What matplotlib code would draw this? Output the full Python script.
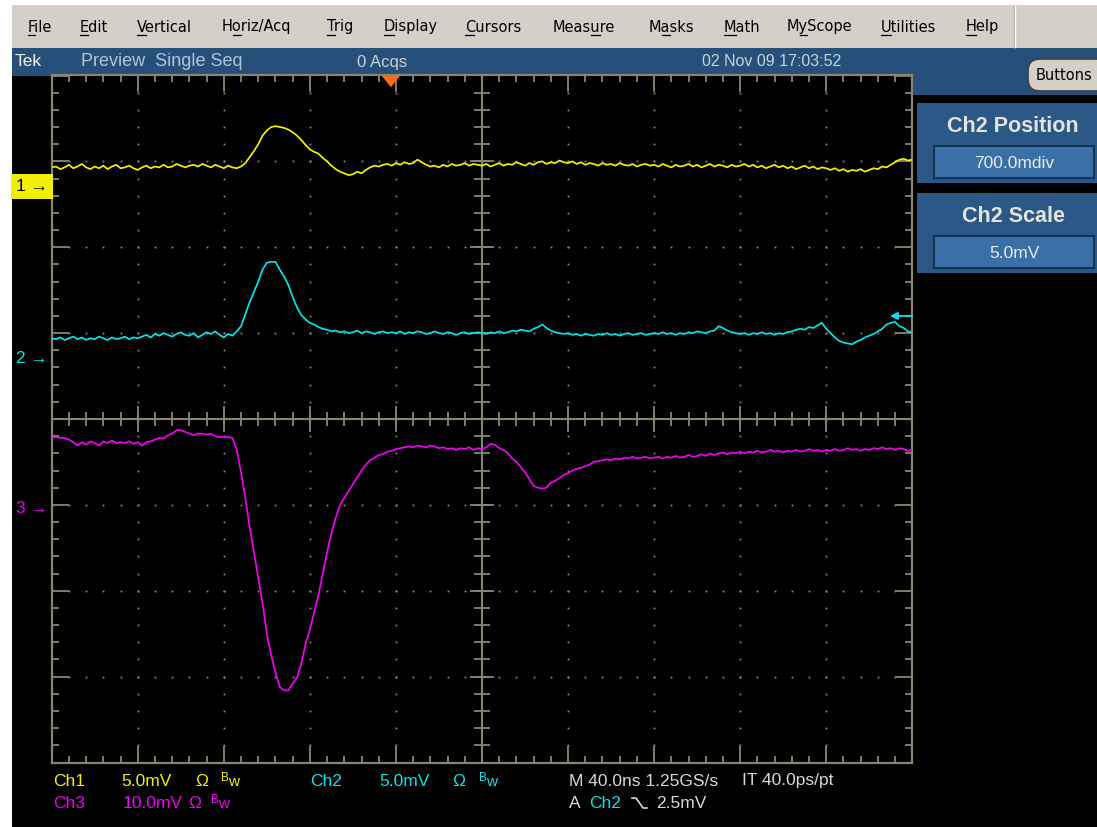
import matplotlib
matplotlib.use("Agg")
import matplotlib.pyplot as plt
from matplotlib.patches import Rectangle, FancyBboxPatch
from matplotlib.transforms import blended_transform_factory
from matplotlib.font_manager import FontProperties
import numpy as np

W, H = 1097, 827

# sample times in divisions (40 ns/div), 0.05 div apart
t = np.linspace(0, 10, 201)

# Ch1, 5.0 mV/div (divisions from screen centre)
ch1 = [
    2.93, 2.94, 2.91, 2.93, 2.96, 2.92, 2.94, 2.97, 2.93, 2.91, 2.94, 2.92, 2.95, 2.91, 2.94, 2.96, 2.92, 2.93, 2.95, 2.92,
    2.90, 2.93, 2.95, 2.92, 2.94, 2.93, 2.96, 2.93, 2.94, 2.97, 2.95, 2.93, 2.95, 2.96, 2.94, 2.97, 2.95, 2.93, 2.96, 2.94,
    2.92, 2.95, 2.93, 2.92, 2.94, 2.98, 3.05, 3.12, 3.20, 3.30, 3.36, 3.40, 3.41, 3.40, 3.39, 3.37, 3.34, 3.30, 3.25, 3.19,
    3.14, 3.11, 3.09, 3.04, 3.00, 2.95, 2.91, 2.88, 2.86, 2.84, 2.85, 2.88, 2.86, 2.90, 2.93, 2.95, 2.94, 2.96, 2.97, 2.95,
    2.98, 2.96, 2.99, 2.97, 2.98, 3.02, 2.99, 2.96, 2.94, 2.95, 2.93, 2.96, 2.94, 2.97, 2.95, 2.96, 2.98, 2.95, 2.97, 2.96,
    2.95, 2.97, 2.94, 2.96, 2.98, 2.95, 2.97, 2.96, 2.99, 2.97, 2.95, 2.98, 2.96, 2.99, 3.00, 2.97, 2.99, 2.98, 3.01, 2.99,
    2.98, 3.00, 2.97, 2.99, 2.96, 2.98, 2.97, 2.95, 2.98, 2.96, 2.97, 2.95, 2.98, 2.96, 2.95, 2.97, 2.94, 2.96, 2.97, 2.95,
    2.96, 2.94, 2.97, 2.95, 2.93, 2.96, 2.94, 2.95, 2.97, 2.94, 2.96, 2.93, 2.95, 2.97, 2.94, 2.96, 2.95, 2.93, 2.96, 2.94,
    2.95, 2.97, 2.94, 2.96, 2.93, 2.95, 2.92, 2.94, 2.96, 2.93, 2.95, 2.92, 2.94, 2.91, 2.93, 2.95, 2.92, 2.94, 2.91, 2.93,
    2.92, 2.90, 2.92, 2.89, 2.91, 2.88, 2.90, 2.89, 2.91, 2.88, 2.90, 2.92, 2.91, 2.94, 2.93, 2.96, 2.99, 3.02, 3.03, 3.01,
    3.02,
]

# Ch2, 5.0 mV/div
ch2 = [
    0.94, 0.93, 0.95, 0.92, 0.94, 0.96, 0.93, 0.95, 0.92, 0.94, 0.93, 0.96, 0.94, 0.92, 0.95, 0.93, 0.94, 0.96, 0.93, 0.95,
    0.94, 0.96, 0.98, 0.95, 0.99, 0.97, 1.00, 0.98, 0.96, 0.99, 1.01, 0.98, 0.97, 1.00, 0.95, 0.98, 1.01, 0.99, 1.02, 0.98,
    0.95, 0.99, 0.97, 1.02, 1.08, 1.22, 1.36, 1.48, 1.60, 1.74, 1.82, 1.83, 1.83, 1.74, 1.66, 1.56, 1.42, 1.30, 1.21, 1.16,
    1.12, 1.10, 1.07, 1.05, 1.04, 1.02, 1.03, 1.01, 1.02, 1.00, 1.01, 1.03, 1.00, 1.02, 1.01, 0.99, 1.01, 1.02, 1.00, 1.01,
    1.00, 1.02, 0.99, 1.01, 1.00, 1.02, 1.01, 0.99, 1.00, 1.02, 1.00, 0.99, 1.01, 1.00, 0.98, 1.00, 1.01, 0.99, 1.00, 1.01,
    1.00, 0.99, 1.01, 1.00, 1.02, 1.00, 1.01, 1.03, 1.02, 1.04, 1.03, 1.02, 1.05, 1.07, 1.10, 1.06, 1.03, 1.01, 1.00, 0.99,
    1.00, 0.98, 0.99, 0.97, 0.99, 0.98, 0.97, 0.99, 0.98, 1.00, 0.98, 0.99, 0.97, 0.99, 1.00, 0.98, 0.99, 1.00, 0.98, 0.99,
    1.00, 0.99, 1.01, 0.99, 1.00, 0.98, 1.00, 0.99, 1.01, 1.00, 1.02, 1.01, 1.00, 1.02, 1.03, 1.08, 1.06, 1.03, 1.01, 1.00,
    0.99, 1.00, 0.98, 1.00, 0.99, 1.01, 0.99, 1.00, 0.98, 1.00, 0.99, 1.01, 1.02, 1.04, 1.05, 1.04, 1.07, 1.06, 1.09, 1.12,
    1.05, 1.00, 0.95, 0.91, 0.89, 0.88, 0.87, 0.90, 0.92, 0.95, 0.97, 0.99, 1.02, 1.05, 1.10, 1.12, 1.13, 1.08, 1.06, 1.02,
    1.01,
]

# Ch3, 10.0 mV/div
ch3 = [
    -0.22, -0.21, -0.22, -0.22, -0.24, -0.27, -0.31, -0.27, -0.30, -0.26, -0.28, -0.31, -0.26, -0.28, -0.25, -0.28, -0.27, -0.28, -0.26, -0.29,
    -0.27, -0.31, -0.27, -0.26, -0.24, -0.22, -0.23, -0.19, -0.17, -0.13, -0.13, -0.15, -0.17, -0.19, -0.17, -0.17, -0.18, -0.17, -0.20, -0.21,
    -0.21, -0.21, -0.22, -0.36, -0.62, -0.92, -1.26, -1.55, -1.85, -2.15, -2.50, -2.75, -2.95, -3.12, -3.16, -3.16, -3.08, -3.01, -2.85, -2.62,
    -2.45, -2.25, -2.05, -1.80, -1.55, -1.33, -1.15, -1.00, -0.92, -0.84, -0.76, -0.68, -0.60, -0.53, -0.48, -0.45, -0.42, -0.41, -0.38, -0.37,
    -0.35, -0.34, -0.33, -0.32, -0.33, -0.31, -0.32, -0.33, -0.31, -0.32, -0.34, -0.33, -0.35, -0.34, -0.36, -0.34, -0.35, -0.33, -0.36, -0.34,
    -0.35, -0.33, -0.29, -0.30, -0.34, -0.36, -0.40, -0.46, -0.50, -0.56, -0.62, -0.70, -0.78, -0.80, -0.81, -0.80, -0.74, -0.72, -0.69, -0.65,
    -0.63, -0.60, -0.58, -0.57, -0.55, -0.53, -0.50, -0.49, -0.48, -0.47, -0.48, -0.46, -0.47, -0.45, -0.46, -0.44, -0.46, -0.45, -0.44, -0.46,
    -0.45, -0.44, -0.46, -0.44, -0.45, -0.43, -0.45, -0.44, -0.42, -0.44, -0.43, -0.41, -0.43, -0.40, -0.42, -0.40, -0.39, -0.41, -0.39, -0.40,
    -0.38, -0.40, -0.38, -0.39, -0.37, -0.39, -0.38, -0.36, -0.38, -0.37, -0.39, -0.37, -0.38, -0.36, -0.38, -0.37, -0.35, -0.37, -0.36, -0.38,
    -0.36, -0.37, -0.35, -0.37, -0.36, -0.34, -0.36, -0.35, -0.37, -0.35, -0.36, -0.34, -0.35, -0.33, -0.35, -0.34, -0.36, -0.34, -0.35, -0.37,
    -0.36,
]

# ground reference of each channel, trigger level and trigger point (divisions)
ch_names = ["1", "2", "3"]
ch_offsets = [2.71, 0.70, -1.04]
trig_level = 1.2
trig_pos = 3.93

menu_items = ["File", "Edit", "Vertical", "Horiz/Acq", "Trig", "Display", "Cursors",
              "Measure", "Masks", "Math", "MyScope", "Utilities", "Help"]
menu_x = [28, 80, 137, 222, 327, 384, 465, 553, 649, 724, 787, 881, 966]
menu_key = [0, 0, 0, 1, 0, 0, 0, 4, 1, 0, 1, 0, 0]  # underlined accelerator letter

YEL = "#f0f000"
CYA = "#00e6e6"
MAG = "#f000f0"
GRAT = "#8a8570"
MENU_BG = "#d4d0c8"
BAR_BG = "#26507a"
PANEL_BG = "#2b5886"
VALUE_BG = "#3a6fa8"
SCOPE_FONT = ["Liberation Sans", "DejaVu Sans"]

fig = plt.figure(figsize=(W / 100, H / 100), dpi=100)
fig.patch.set_facecolor("black")
renderer = fig.canvas.get_renderer()

# pixel-space layer for the window chrome
bg = fig.add_axes([0, 0, 1, 1])
bg.set_xlim(0, W)
bg.set_ylim(H, 0)
bg.axis("off")


def box(x, y, w, h, color, **kw):
    bg.add_patch(Rectangle((x, y), w, h, facecolor=color, edgecolor=kw.pop("ec", "none"), **kw))


def label(x, y, s, color, size=12.5, **kw):
    kw.setdefault("family", SCOPE_FONT)
    bg.text(x, y, s, color=color, fontsize=size, va="center", **kw)


box(0, 0, W, 5, "white")
box(0, 0, 12, H, "white")
box(12, 5, W - 12, 43, MENU_BG)
bg.plot([1014, 1014], [6, 47], color="#a8a49c", lw=1)
bg.plot([1015, 1015], [6, 47], color="white", lw=1)
menu_font = FontProperties(family="DejaVu Sans", size=10.5)
for name, x, k in zip(menu_items, menu_x, menu_key):
    label(x, 27, name, "black", size=10.5, family="DejaVu Sans")
    x0 = renderer.get_text_width_height_descent(name[:k], menu_font, ismath=False)[0] if k else 0
    x1 = renderer.get_text_width_height_descent(name[:k + 1], menu_font, ismath=False)[0]
    bg.plot([x + x0, x + x1 - 1], [35, 35], color="black", lw=0.9)

# status bar
box(12, 48, 900, 27.5, BAR_BG)
box(912, 48, W - 912, 47, BAR_BG)
label(15, 62, "Tek", "#f0f0f0", size=12.5)
label(81, 62, "Preview  Single Seq", "#b4c4d6", size=13)
label(357, 62, "0 Acqs", "#c8d2dc", size=12)
label(702, 62, "02 Nov 09 17:03:52", "#c8d2dc", size=11.5)

bg.add_patch(FancyBboxPatch((1028, 59), 80, 32, boxstyle="round,pad=0,rounding_size=12",
                            facecolor=MENU_BG, edgecolor="#404040", lw=1.2))
label(1036, 75, "Buttons", "black", size=10.5, family="DejaVu Sans")

# side panel
for y0, title, value in [(103, "Ch2 Position", "700.0mdiv"), (193, "Ch2 Scale", "5.0mV")]:
    box(917, y0, 180, 80, PANEL_BG)
    bg.text(1013, y0 + 24, title, color="#e4e4e4", fontsize=15.5, fontweight="bold",
            family=SCOPE_FONT, ha="center", va="center")
    box(934, y0 + 43, 160, 32, VALUE_BG, ec="#163250", lw=1.5)
    bg.text(1014, y0 + 60, value, color="#e6ecf4", fontsize=12.5, family=SCOPE_FONT,
            ha="center", va="center")

# readout below the graticule
r1, r2 = 781, 803
label(53, r1, "Ch1", YEL)
label(121, r1, "5.0mV", YEL)
label(195, r1, "Ω", YEL)
label(221, r1 - 3, "B", YEL, size=8.5)
label(228, r1 + 1, "w", YEL, size=11)
label(310, r1, "Ch2", CYA)
label(379, r1, "5.0mV", CYA)
label(452, r1, "Ω", CYA)
label(479, r1 - 3, "B", CYA, size=8.5)
label(486, r1 + 1, "w", CYA, size=11)
label(569, r1, "M 40.0ns 1.25GS/s", "#d8d8d8")
label(742, r1, "IT 40.0ps/pt", "#d8d8d8")
label(53, r2, "Ch3", MAG)
label(123, r2, "10.0mV", MAG)
label(188, r2, "Ω", MAG)
label(211, r2 - 3, "B", MAG, size=8.5)
label(218, r2 + 1, "w", MAG, size=11)
label(569, r2, "A", "#d8d8d8")
label(589, r2, "Ch2", CYA)
bg.plot([632, 636, 643, 647], [798, 798, 808, 808], color="#d8d8d8", lw=1.2)
label(656, r2, "2.5mV", "#d8d8d8")

# graticule: 10 x 8 divisions
ax = fig.add_axes([51.7 / W, (H - 762.5) / H, 860.6 / W, 687 / H])
ax.set_facecolor("black")
ax.set_xlim(0, 10)
ax.set_ylim(-4, 4)
for sp in ax.spines.values():
    sp.set_color(GRAT)
    sp.set_linewidth(1.6)
ax.set_xticks(range(11))
ax.set_yticks(range(-4, 5))
ax.set_xticks(np.arange(0, 10.01, 0.2), minor=True)
ax.set_yticks(np.arange(-4, 4.01, 0.2), minor=True)
ax.tick_params(which="both", direction="in", top=True, right=True, colors=GRAT,
               labelbottom=False, labelleft=False, width=1.3)
ax.tick_params(which="major", length=12)
ax.tick_params(which="minor", length=5)

dots_y = np.arange(-4, 4.01, 0.2)
dots_x = np.arange(0, 10.01, 0.2)
for gx in [1, 2, 3, 4, 6, 7, 8, 9]:
    ax.plot(np.full_like(dots_y, gx), dots_y, ls="none", marker="s", ms=1.3, color=GRAT, mew=0)
for gy in [-3, -2, -1, 1, 2, 3]:
    ax.plot(dots_x, np.full_like(dots_x, gy), ls="none", marker="s", ms=1.3, color=GRAT, mew=0)

ax.axhline(0, color=GRAT, lw=1.5)
ax.axvline(5, color=GRAT, lw=1.5)
ax.vlines(dots_x, -0.08, 0.08, color=GRAT, lw=1.3)
ax.vlines(range(1, 10), -0.15, 0.15, color=GRAT, lw=1.3)
ax.hlines(dots_y, 4.91, 5.09, color=GRAT, lw=1.3)
ax.hlines(range(-3, 4), 4.86, 5.14, color=GRAT, lw=1.3)

# waveforms
ax.plot(t, ch1, color=YEL, lw=1.25, zorder=4)
ax.plot(t, ch2, color=CYA, lw=1.25, zorder=4)
ax.plot(t, ch3, color=MAG, lw=1.25, zorder=4)

# channel ground markers on the left edge
mark_tf = blended_transform_factory(ax.transAxes, ax.transData)
for name, off, col in zip(ch_names, ch_offsets, [YEL, CYA, MAG]):
    if name == "1":
        ax.text(-0.004, off, "1 →", color="black", fontsize=12.5, family=SCOPE_FONT,
                ha="right", va="center", transform=mark_tf, clip_on=False,
                bbox=dict(boxstyle="square,pad=0.3", facecolor=YEL, edgecolor="none"))
    else:
        ax.text(-0.004, off, name + " →", color=col, fontsize=12.5, family=SCOPE_FONT,
                ha="right", va="center", transform=mark_tf, clip_on=False)

# trigger level (right edge) and trigger point (top edge)
ax.annotate("", xy=(9.74, trig_level), xytext=(10.0, trig_level),
            arrowprops=dict(arrowstyle="-|>", color=CYA, lw=1.3, mutation_scale=11,
                            shrinkA=0, shrinkB=0), annotation_clip=False)
ax.plot([trig_pos], [3.94], marker=[(-8, 5), (8, 5), (0, -5)], ms=12, color="#ff6a1a",
        clip_on=False, zorder=6)

fig.savefig("out.png", dpi=100, facecolor=fig.get_facecolor())
